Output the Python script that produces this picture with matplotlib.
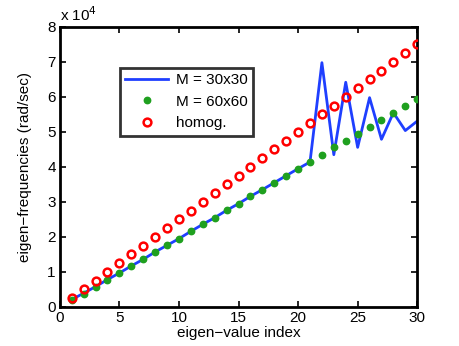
import numpy as np
from matplotlib import pyplot as plt
from matplotlib.ticker import FuncFormatter

plt.rcParams['font.family'] = ['Liberation Sans', 'DejaVu Sans']

index = np.arange(1, 31)

m30 = [2100, 3900, 5800, 7800, 9700, 11700, 13600, 15700, 17600, 19500,
       21600, 23600, 25500, 27600, 29500, 31600, 33500, 35500, 37500, 39500,
       41400, 69800, 43500, 64200, 45600, 59800, 47900, 55500, 50400, 53100]

m60 = [2100, 3800, 5600, 7800, 9700, 11700, 13600, 15700, 17600, 19500,
       21600, 23600, 25500, 27600, 29500, 31600, 33500, 35500, 37500, 39500,
       41400, 43500, 45600, 47500, 49500, 51400, 53500, 55400, 57400, 59400]

homog = [2500, 5000, 7500, 10000, 12500, 15000, 17500, 20000, 22500, 25000,
         27500, 30000, 32500, 35000, 37500, 40000, 42500, 45000, 47500, 50000,
         52500, 55000, 57500, 60000, 62500, 65000, 67500, 70000, 72500, 75000]

fig = plt.figure(figsize=(4.6, 3.46), dpi=100)
ax = fig.add_axes([0.130, 0.113, 0.777, 0.809])

ax.plot(index, m30, color='#1f3fff', lw=2, label='M = 30x30', zorder=2)
ax.plot(index, m60, 'o', color='#1fa01f', ms=4.6, mec='#1fa01f', label='M = 60x60', zorder=3)
ax.plot(index, homog, 'o', mfc='none', mec='#ff0000', mew=1.8, ms=5.6, label='homog.', zorder=4)

ax.set_xlim(0, 30)
ax.set_ylim(0, 80000)
ax.set_xticks(range(0, 31, 5))
ax.set_yticks(range(0, 80001, 10000))
ax.yaxis.set_major_formatter(FuncFormatter(lambda v, p: '%d' % round(v / 1e4)))
ax.tick_params(direction='in', top=True, right=True, labelsize=11, width=1.2, length=4, pad=3)
for s in ax.spines.values():
    s.set_linewidth(2)

ax.text(0.0, 1.01, r'x 10$^{4}$', transform=ax.transAxes, fontsize=11, va='bottom')
ax.set_xlabel('eigen\u2212value index', fontsize=11, labelpad=1)
ax.set_ylabel('eigen\u2212frequencies (rad/sec)', fontsize=11, labelpad=11)

leg = ax.legend(loc='upper left', bbox_to_anchor=(0.168, 0.855), fontsize=11,
                frameon=True, fancybox=False, edgecolor='black', borderpad=0.35,
                handlelength=2.8, handletextpad=0.5, labelspacing=0.5, borderaxespad=0)
leg.get_frame().set_linewidth(2)

plt.savefig('out.png', dpi=100)
